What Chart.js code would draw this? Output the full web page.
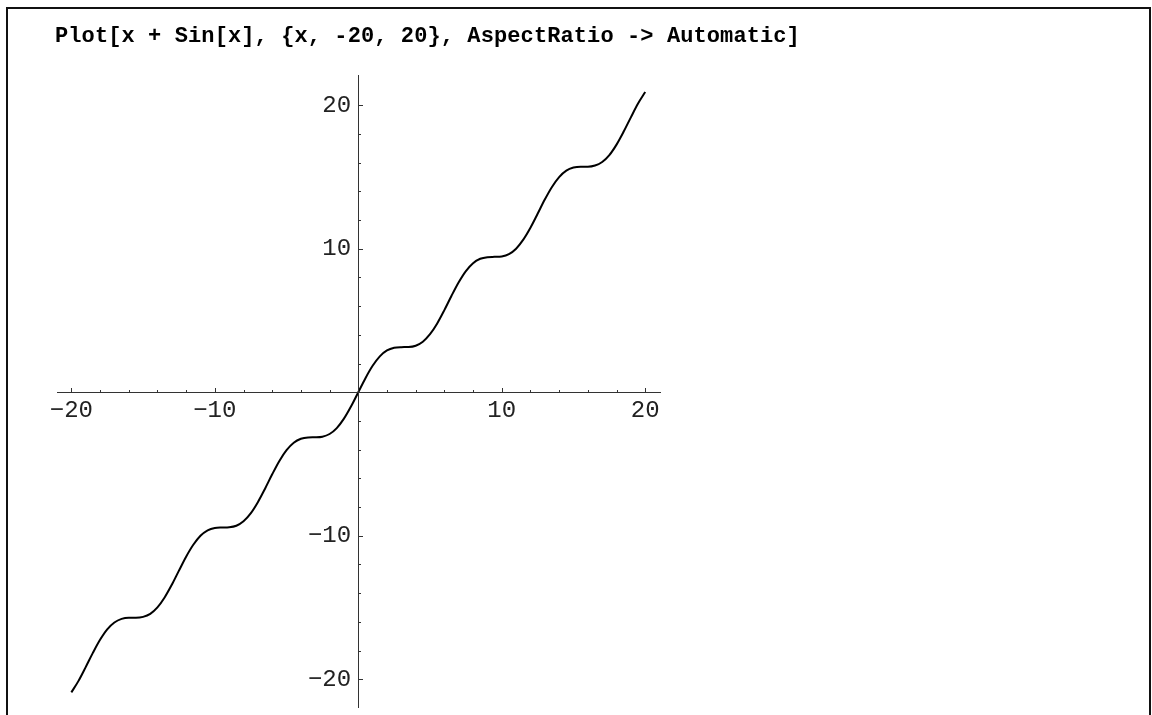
<!DOCTYPE html>
<html>
<head>
<meta charset="utf-8">
<script src="https://cdn.jsdelivr.net/npm/chart.js@4/dist/chart.umd.min.js"></script>
<style>
  html, body { margin: 0; padding: 0; background: #fff; }
  #wrap { position: relative; width: 1152px; height: 715px; overflow: hidden; }
  #plot { position: absolute; left: 0; top: 0; }
  #frame { position: absolute; left: 6px; top: 7px; width: 1141px; height: 720px;
           border-top: 2px solid #111; border-left: 2px solid #111; border-right: 2px solid #111; }
  #title { position: absolute; left: 55px; top: 24px; font: bold 22px "Liberation Mono", monospace; letter-spacing: 0.1px; color: #000; white-space: pre; }
</style>
</head>
<body>
<div id="wrap">
  <canvas id="plot" width="1152" height="715"></canvas>
  <div id="frame"></div>
  <div id="title">Plot[x + Sin[x], {x, -20, 20}, AspectRatio -> Automatic]</div>
</div>
<script>
// values, every half unit of x
const xValues = [-20,-19.5,-19,-18.5,-18,-17.5,-17,-16.5,-16,-15.5,-15,-14.5,-14,-13.5,-13,-12.5,-12,-11.5,-11,-10.5,
  -10,-9.5,-9,-8.5,-8,-7.5,-7,-6.5,-6,-5.5,-5,-4.5,-4,-3.5,-3,-2.5,-2,-1.5,-1,-0.5,
  0,0.5,1,1.5,2,2.5,3,3.5,4,4.5,5,5.5,6,6.5,7,7.5,8,8.5,9,9.5,
  10,10.5,11,11.5,12,12.5,13,13.5,14,14.5,15,15.5,16,16.5,17,17.5,18,18.5,19,19.5,20]
const yValues = [-20.91,-20.11,-19.15,-18.16,-17.25,-16.52,-16.04,-15.79,-15.71,-15.71,-15.65,-15.44,-14.99,-14.3,-13.42,-12.43,-11.46,-10.63,-10,-9.62,
  -9.46,-9.43,-9.41,-9.3,-8.99,-8.44,-7.66,-6.72,-5.72,-4.79,-4.04,-3.52,-3.24,-3.15,-3.14,-3.1,-2.91,-2.5,-1.84,-0.98,
  0,0.98,1.84,2.5,2.91,3.1,3.14,3.15,3.24,3.52,4.04,4.79,5.72,6.72,7.66,8.44,8.99,9.3,9.41,9.43,
  9.46,9.62,10,10.63,11.46,12.43,13.42,14.3,14.99,15.44,15.65,15.71,15.71,15.79,16.04,16.52,17.25,18.16,19.15,20.11,20.91]

const xTickLabels = [-20, -10, 10, 20]
const yTickLabels = [-20, -10, 10, 20]
const tickMarks = [-20,-18,-16,-14,-12,-10,-8,-6,-4,-2,2,4,6,8,10,12,14,16,18,20]

const fmt = v => (v < 0 ? '\u2212' + Math.abs(v) : String(v))
const tickFont = { family: 'Liberation Mono', size: 24 }

// axes cross at the origin; ticks point into the plot, longer at the labelled values
const originAxes = {
  id: 'originAxes',
  afterDraw(chart) {
    const c = chart.ctx, sx = chart.scales.x, sy = chart.scales.y, a = chart.chartArea
    const x0 = Math.round(sx.getPixelForValue(0)) + 0.5
    const y0 = Math.round(sy.getPixelForValue(0)) + 0.5
    c.save()
    c.strokeStyle = '#333'
    c.lineWidth = 1
    c.beginPath()
    c.moveTo(a.left, y0); c.lineTo(a.right, y0)
    c.moveTo(x0, a.top); c.lineTo(x0, a.bottom)
    tickMarks.forEach(v => {
      let len = v % 10 === 0 ? 4.5 : 2.5
      let px = Math.round(sx.getPixelForValue(v)) + 0.5
      c.moveTo(px, y0)
      c.lineTo(px, y0 - len)
      let py = Math.round(sy.getPixelForValue(v)) + 0.5
      c.moveTo(x0, py)
      c.lineTo(x0 + len, py)
    })
    c.stroke()
    c.restore()
  }
}

const noPad = s => { s.paddingTop = 0; s.paddingBottom = 0; s.paddingLeft = 0; s.paddingRight = 0 }

new Chart(document.getElementById('plot'), {
  type: 'scatter',
  data: {
    datasets: [{
      data: xValues.map((x, i) => ({ x: x, y: yValues[i] })),
      showLine: true,
      borderColor: '#000',
      borderWidth: 2,
      pointRadius: 0,
      cubicInterpolationMode: 'monotone',
      fill: false
    }]
  },
  options: {
    responsive: false,
    animation: false,
    devicePixelRatio: 1,
    layout: { padding: { left: 57, right: 491, top: 75, bottom: 7 } },
    plugins: { legend: { display: false }, tooltip: { enabled: false } },
    scales: {
      x: {
        type: 'linear',
        position: { y: -0.1 },
        min: -21, max: 21.1,
        afterBuildTicks: s => { s.ticks = xTickLabels.map(v => ({ value: v })) },
        afterFit: noPad,
        grid: { display: false, drawTicks: false },
        border: { display: false },
        ticks: { font: tickFont, color: '#222', maxRotation: 0, autoSkip: false, callback: v => fmt(v) }
      },
      y: {
        type: 'linear',
        position: { x: -0.5 },
        min: -22, max: 22.1,
        afterBuildTicks: s => { s.ticks = yTickLabels.map(v => ({ value: v })) },
        afterFit: noPad,
        grid: { display: false, drawTicks: false },
        border: { display: false },
        ticks: { font: tickFont, color: '#222', autoSkip: false, callback: v => fmt(v) }
      }
    }
  },
  plugins: [originAxes]
})
</script>
</body>
</html>
